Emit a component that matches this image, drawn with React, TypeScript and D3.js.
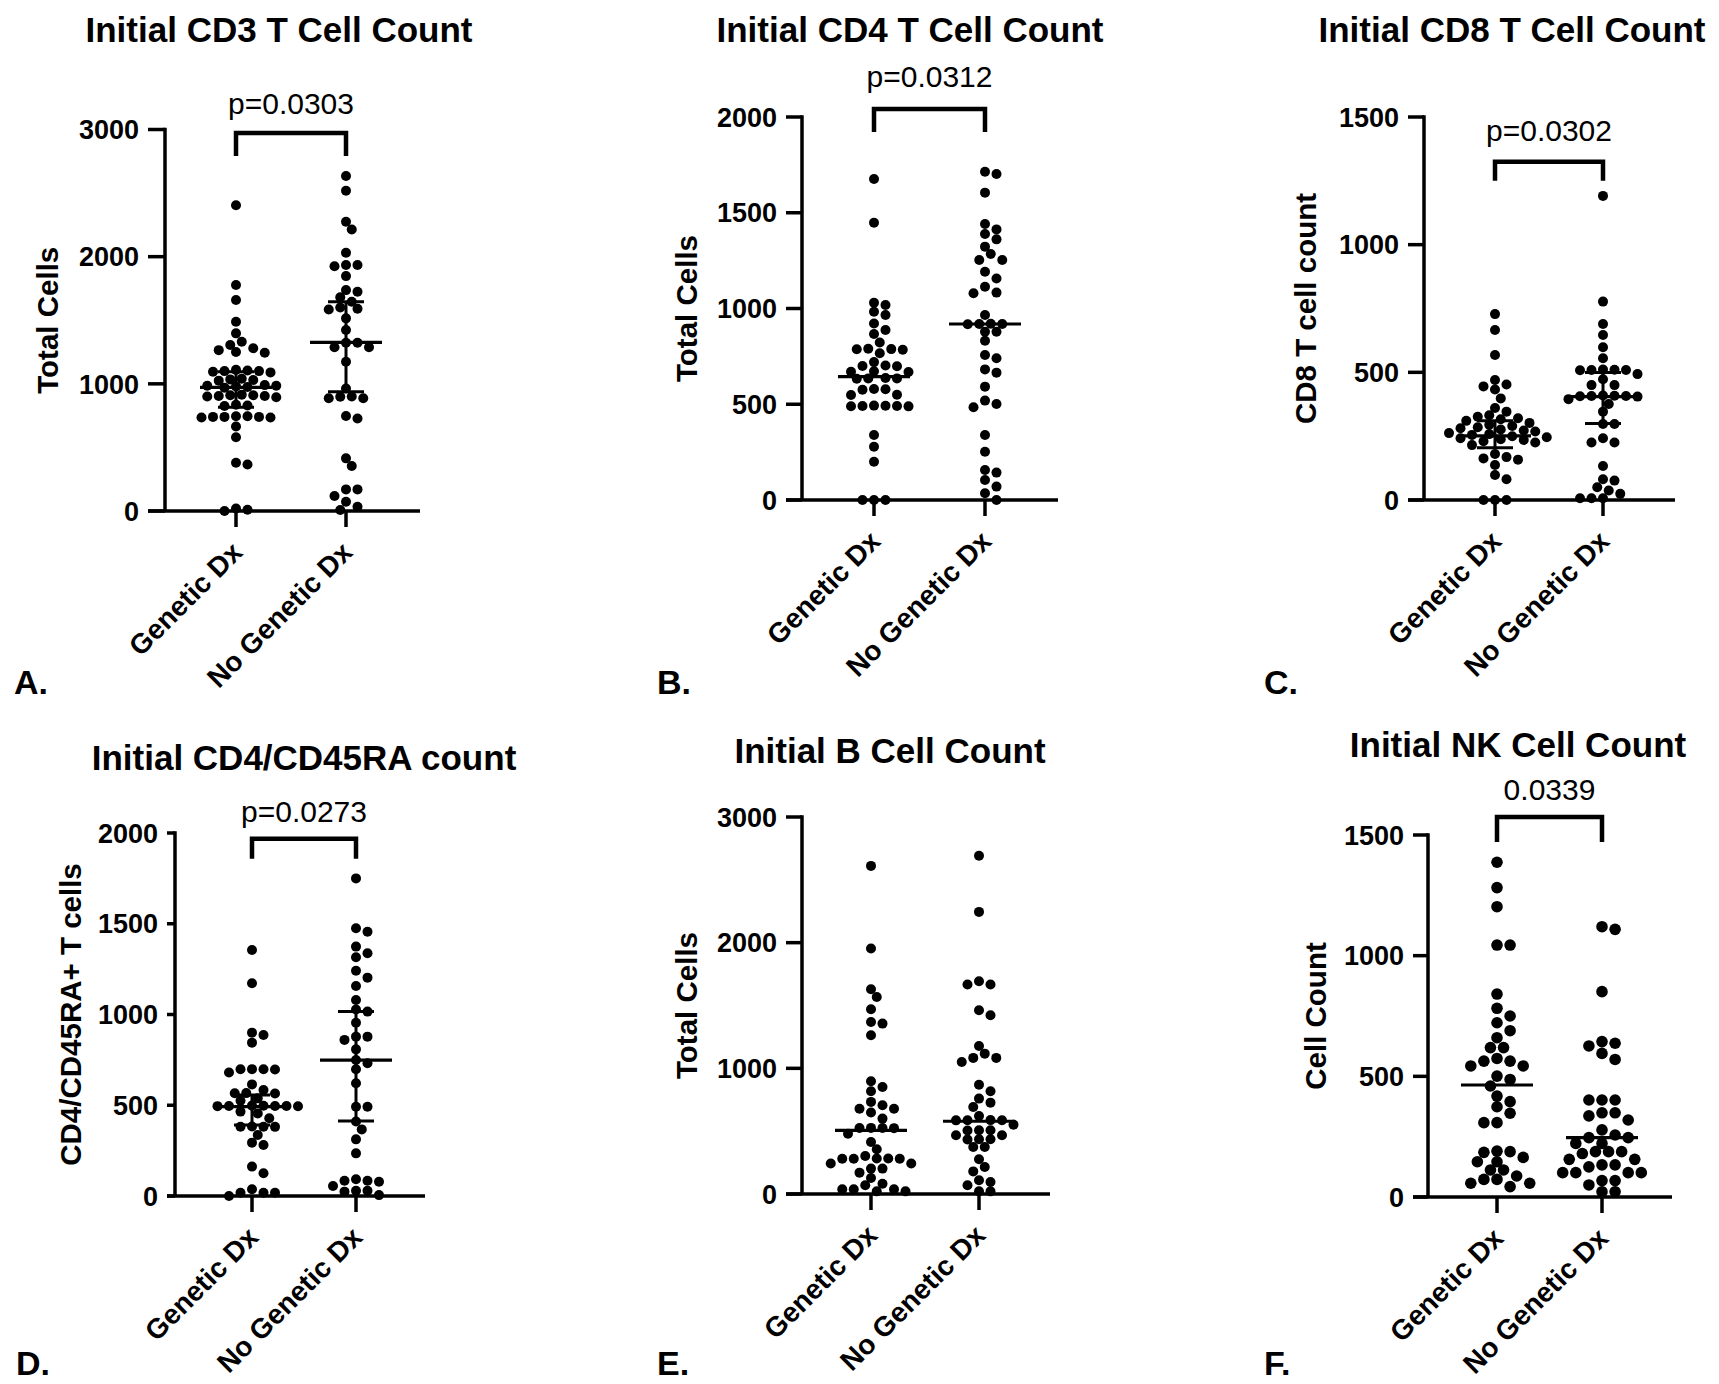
import React from "react";
import * as d3 from "d3";

// ---------- categories & tick labels ----------
const categories = ["Genetic Dx", "No Genetic Dx"];
const ticks3000 = [0, 1000, 2000, 3000];
const ticks2000 = [0, 500, 1000, 1500, 2000];
const ticks1500 = [0, 500, 1000, 1500];

// ---------- A. CD3 ----------
const cd3Genetic = [2405, 1777, 1659, 1488, 1397, 1331, 1305, 1280, 1265, 1245, 1250, 1105, 1100, 1095, 1110, 1090, 1100, 1030, 1040, 1025, 1035, 985, 975, 980, 990, 970, 985, 910, 905, 915, 900, 910, 895, 905, 830, 835, 825, 745, 740, 740, 735, 745, 740, 735, 665, 580, 380, 365, 10, 20, 0];
const cd3NoGenetic = [2634, 2518, 2275, 2214, 2031, 1934, 1925, 1934, 1847, 1724, 1737, 1680, 1646, 1585, 1600, 1590, 1515, 1423, 1323, 1323, 1287, 1287, 1174, 964, 886, 899, 900, 886, 728, 747, 414, 354, 170, 170, 118, 73, 34, 8];
const cd3Median = [972, 1326];
const cd3Q1 = [815, 938];
const cd3Q3 = [1095, 1646];

// ---------- B. CD4 ----------
const cd4Genetic = [1676, 1448, 1030, 1018, 983, 966, 922, 888, 867, 822, 787, 790, 785, 788, 766, 720, 700, 702, 698, 670, 672, 668, 635, 637, 633, 635, 578, 580, 576, 548, 550, 491, 493, 489, 491, 492, 490, 339, 278, 200, 0, 0, 0];
const cd4NoGenetic = [1714, 1702, 1605, 1441, 1413, 1389, 1361, 1323, 1285, 1253, 1253, 1192, 1157, 1114, 1083, 1080, 966, 919, 920, 918, 919, 879, 879, 832, 757, 740, 682, 665, 592, 519, 501, 484, 339, 252, 157, 143, 104, 70, 35, 0];
const cd4Median = [644, 919];

// ---------- C. CD8 ----------
const cd8Genetic = [728, 666, 568, 470, 452, 445, 433, 398, 360, 346, 332, 326, 320, 316, 310, 302, 295, 290, 285, 281, 276, 272, 268, 262, 258, 255, 250, 246, 242, 238, 235, 230, 225, 215, 180, 168, 163, 158, 137, 98, 81, 0, 0, 0];
const cd8NoGenetic = [1191, 777, 689, 646, 598, 555, 509, 510, 508, 509, 511, 493, 473, 450, 450, 407, 408, 406, 407, 409, 405, 395, 376, 346, 298, 298, 242, 225, 225, 133, 81, 76, 50, 37, 24, 7, 7, 7];
const cd8Median = [251, 405];
const cd8Q1 = [205, 300];
const cd8Q3 = [310, 499];

// ---------- D. CD4/CD45RA ----------
const cd45Genetic = [1355, 1172, 900, 887, 845, 698, 699, 697, 698, 680, 615, 584, 566, 567, 565, 538, 525, 496, 497, 495, 496, 498, 494, 496, 465, 455, 428, 382, 383, 381, 382, 336, 294, 281, 162, 125, 37, 18, 18, 18, 0];
const cd45NoGenetic = [1750, 1475, 1456, 1374, 1337, 1315, 1241, 1203, 1157, 1080, 1028, 1016, 955, 878, 878, 860, 808, 749, 731, 698, 621, 492, 492, 410, 367, 312, 235, 84, 84, 92, 79, 55, 29, 29, 24, 5];
const cd45Median = [492, 749];
const cd45Q1 = [391, 413];
const cd45Q3 = [556, 1016];

// ---------- E. B cells ----------
const bGenetic = [2611, 1953, 1630, 1568, 1470, 1369, 1356, 1263, 897, 852, 817, 733, 706, 679, 679, 648, 600, 525, 526, 524, 525, 480, 414, 356, 303, 281, 282, 280, 281, 283, 242, 242, 202, 202, 170, 127, 82, 69, 37, 37, 37, 21, 21];
const bNoGenetic = [2691, 2245, 1693, 1667, 1667, 1462, 1423, 1178, 1117, 1083, 1083, 1050, 870, 817, 759, 727, 693, 621, 587, 588, 586, 587, 552, 507, 508, 506, 467, 467, 435, 436, 434, 374, 374, 276, 215, 180, 109, 96, 69, 21, 21];
const bMedian = [507, 579];

// ---------- F. NK cells ----------
const nkGenetic = [1387, 1282, 1203, 1044, 1044, 841, 782, 750, 722, 689, 660, 619, 619, 574, 563, 563, 543, 543, 501, 487, 460, 418, 395, 374, 347, 308, 308, 190, 188, 185, 164, 146, 146, 112, 112, 87, 73, 73, 57, 57, 43];
const nkNoGenetic = [1120, 1109, 851, 644, 637, 626, 595, 570, 402, 402, 402, 349, 349, 336, 319, 278, 257, 246, 246, 222, 222, 188, 188, 188, 180, 156, 156, 133, 133, 125, 101, 101, 101, 101, 68, 68, 50, 22, 22];
const nkMedian = [464, 246];

// ---------- titles / labels / p-values ----------
const titles = ["Initial CD3 T Cell Count", "Initial CD4 T Cell Count", "Initial CD8 T Cell Count", "Initial CD4/CD45RA count", "Initial B Cell Count", "Initial NK Cell Count"];
const yLabels = ["Total Cells", "Total Cells", "CD8 T cell count", "CD4/CD45RA+ T cells", "Total Cells", "Cell Count"];
const letters = ["A.", "B.", "C.", "D.", "E.", "F."];
const pTexts = ["p=0.0303", "p=0.0312", "p=0.0302", "p=0.0273", "", "0.0339"];
const bracketLevels = [2972, 2042, 1325, 1969, 0, 1575];

const FONT = "'Liberation Sans', Arial, Helvetica, sans-serif";

type Layout = {
  axisX: number; cat0: number; cat1: number; xEnd: number; y0: number; yTop: number;
  tickLen: number; titleX: number; titleY: number; letterX: number; letterY: number;
  yLabelX: number; pDy: number; legLen: number; r: number;
};

type Panel = {
  genetic: number[]; noGenetic: number[]; median: number[]; q1?: number[]; q3?: number[];
  yMax: number; ticks: number[]; idx: number; layout: Layout;
};

const panels: Panel[] = [
  { idx: 0, genetic: cd3Genetic, noGenetic: cd3NoGenetic, median: cd3Median, q1: cd3Q1, q3: cd3Q3, yMax: 3000, ticks: ticks3000,
    layout: { axisX: 165, cat0: 236, cat1: 346, xEnd: 420, y0: 511, yTop: 129.5, tickLen: 17, titleX: 279, titleY: 42, letterX: 14, letterY: 694, yLabelX: 47, pDy: 19, legLen: 23, r: 5 } },
  { idx: 1, genetic: cd4Genetic, noGenetic: cd4NoGenetic, median: cd4Median, yMax: 2000, ticks: ticks2000,
    layout: { axisX: 802, cat0: 874, cat1: 985, xEnd: 1058, y0: 500, yTop: 117, tickLen: 16, titleX: 910, titleY: 42, letterX: 657, letterY: 694, yLabelX: 686, pDy: 22, legLen: 23, r: 5 } },
  { idx: 2, genetic: cd8Genetic, noGenetic: cd8NoGenetic, median: cd8Median, q1: cd8Q1, q3: cd8Q3, yMax: 1500, ticks: ticks1500,
    layout: { axisX: 1424, cat0: 1495, cat1: 1603, xEnd: 1675, y0: 500, yTop: 117, tickLen: 16, titleX: 1512, titleY: 42, letterX: 1264, letterY: 694, yLabelX: 1305, pDy: 21, legLen: 19, r: 5 } },
  { idx: 3, genetic: cd45Genetic, noGenetic: cd45NoGenetic, median: cd45Median, q1: cd45Q1, q3: cd45Q3, yMax: 2000, ticks: ticks2000,
    layout: { axisX: 175, cat0: 252, cat1: 356, xEnd: 425, y0: 1196, yTop: 833, tickLen: 8, titleX: 304, titleY: 770, letterX: 16, letterY: 1375, yLabelX: 70, pDy: 17, legLen: 20, r: 5 } },
  { idx: 4, genetic: bGenetic, noGenetic: bNoGenetic, median: bMedian, yMax: 3000, ticks: ticks3000,
    layout: { axisX: 802, cat0: 871, cat1: 979, xEnd: 1050, y0: 1194, yTop: 817, tickLen: 16, titleX: 890, titleY: 763, letterX: 657, letterY: 1375, yLabelX: 686, pDy: 19, legLen: 20, r: 5 } },
  { idx: 5, genetic: nkGenetic, noGenetic: nkNoGenetic, median: nkMedian, yMax: 1500, ticks: ticks1500,
    layout: { axisX: 1428, cat0: 1497, cat1: 1602, xEnd: 1672, y0: 1197, yTop: 835, tickLen: 15, titleX: 1518, titleY: 757, letterX: 1264, letterY: 1375, yLabelX: 1315, pDy: 17, legLen: 25, r: 5.8 } },
];

// beeswarm: place each value at its y, shifting sideways by half-steps until it no longer overlaps too much
function swarm(values: number[], y: (v: number) => number, cx: number, r: number) {
  const minD = 2 * r * 0.9;
  const step = 2 * r + 1.5;
  const offsets: number[] = [0];
  for (let k = 1; k < 60; k++) offsets.push((k * step) / 2, (-k * step) / 2);
  const placed: { x: number; y: number }[] = [];
  const sorted = [...values].sort((a, b) => b - a);
  for (const v of sorted) {
    const py = y(v);
    for (const o of offsets) {
      const px = cx + o;
      if (placed.every((p) => (p.x - px) ** 2 + (p.y - py) ** 2 >= minD * minD)) {
        placed.push({ x: px, y: py });
        break;
      }
    }
  }
  return placed;
}

function PanelView({ p }: { p: Panel }) {
  const L = p.layout;
  const y = d3.scaleLinear().domain([0, p.yMax]).range([L.y0, L.yTop]);
  const x = d3.scalePoint<string>().domain(categories).range([L.cat0, L.cat1]);
  const groups = [p.genetic, p.noGenetic];
  const sw = 3.5;
  const title = titles[p.idx];
  const pText = pTexts[p.idx];
  const bracket = bracketLevels[p.idx];
  const yMid = (L.y0 + L.yTop) / 2;
  return (
    <g>
      <text x={L.titleX} y={L.titleY} textAnchor="middle" fontFamily={FONT} fontWeight="bold" fontSize={35}>{title}</text>
      <text x={L.letterX} y={L.letterY} fontFamily={FONT} fontWeight="bold" fontSize={34}>{letters[p.idx]}</text>
      <text transform={`translate(${L.yLabelX},${yMid}) rotate(-90)`} textAnchor="middle" dominantBaseline="central" fontFamily={FONT} fontWeight="bold" fontSize={29.5}>{yLabels[p.idx]}</text>
      {/* y axis */}
      <line x1={L.axisX} x2={L.axisX} y1={y(p.yMax) - sw / 2} y2={L.y0} stroke="#000" strokeWidth={sw} />
      {p.ticks.map((t) => (
        <g key={t}>
          <line x1={L.axisX - L.tickLen} x2={L.axisX} y1={y(t)} y2={y(t)} stroke="#000" strokeWidth={sw} />
          <text x={L.axisX - L.tickLen - 9} y={y(t)} dy="0.36em" textAnchor="end" fontFamily={FONT} fontWeight="bold" fontSize={27}>{t}</text>
        </g>
      ))}
      {/* x axis */}
      <line x1={L.axisX - L.tickLen} x2={L.xEnd} y1={L.y0} y2={L.y0} stroke="#000" strokeWidth={sw} />
      {categories.map((c) => (
        <g key={c}>
          <line x1={x(c)} x2={x(c)} y1={L.y0} y2={L.y0 + 16} stroke="#000" strokeWidth={sw} />
          <text transform={`translate(${(x(c) as number) + 8},${L.y0 + 43}) rotate(-45)`} textAnchor="end" fontFamily={FONT} fontWeight="bold" fontSize={28}>{c}</text>
        </g>
      ))}
      {/* dots */}
      {groups.map((g, gi) =>
        swarm(g, y, x(categories[gi]) as number, L.r).map((pt, i) => (
          <circle key={`${gi}-${i}`} cx={pt.x} cy={pt.y} r={L.r} fill="#000" />
        ))
      )}
      {/* median & IQR */}
      {categories.map((c, gi) => {
        const cx = x(c) as number;
        return (
          <g key={`m-${c}`}>
            <line x1={cx - 36} x2={cx + 36} y1={y(p.median[gi])} y2={y(p.median[gi])} stroke="#000" strokeWidth={3.2} />
            {p.q1 && p.q3 && (
              <g>
                <line x1={cx} x2={cx} y1={y(p.q1[gi])} y2={y(p.q3[gi])} stroke="#000" strokeWidth={3} />
                <line x1={cx - 18} x2={cx + 18} y1={y(p.q1[gi])} y2={y(p.q1[gi])} stroke="#000" strokeWidth={3} />
                <line x1={cx - 18} x2={cx + 18} y1={y(p.q3[gi])} y2={y(p.q3[gi])} stroke="#000" strokeWidth={3} />
              </g>
            )}
          </g>
        );
      })}
      {/* significance bracket */}
      {pText && (
        <g>
          <path d={`M${L.cat0},${y(bracket) + L.legLen}V${y(bracket)}H${L.cat1}V${y(bracket) + L.legLen}`} fill="none" stroke="#000" strokeWidth={4.5} />
          <text x={(L.cat0 + L.cat1) / 2} y={y(bracket) - L.pDy} textAnchor="middle" fontFamily={FONT} fontSize={30}>{pText}</text>
        </g>
      )}
    </g>
  );
}

export default function App() {
  return (
    <svg width={1719} height={1384} viewBox="0 0 1719 1384" style={{ position: "absolute", left: 0, top: 0, display: "block", background: "#fff" }}>
      <rect width={1719} height={1384} fill="#fff" />
      {panels.map((p) => (
        <PanelView key={p.idx} p={p} />
      ))}
    </svg>
  );
}
